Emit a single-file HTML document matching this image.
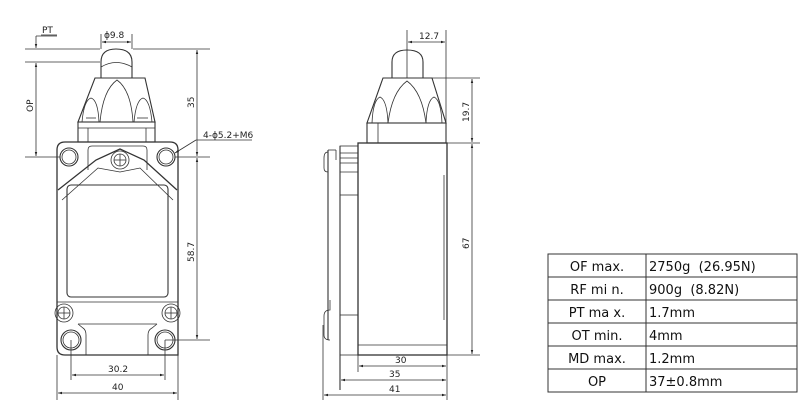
<!DOCTYPE html>
<html><head><meta charset="utf-8"><style>
html,body{margin:0;padding:0;background:#fff;}
svg{display:block}
text{font-family:"DejaVu Sans","Liberation Sans",sans-serif;font-size:9px;fill:#222}
.t{font-family:"DejaVu Sans","Liberation Sans",sans-serif;font-size:13px;fill:#111}
</style></head><body>
<svg width="808" height="412" viewBox="0 0 808 412" xmlns="http://www.w3.org/2000/svg">
<defs>
<marker id="a" viewBox="0 0 10 10" refX="10" refY="5" markerWidth="7" markerHeight="5" orient="auto-start-reverse"><path d="M0,2 L10,5 L0,8 z" fill="#222"/></marker>
</defs>
<g stroke="#333" stroke-width="0.8" fill="none">
<line x1="25" y1="49" x2="100" y2="49"/>
<line x1="133" y1="49" x2="210" y2="49"/>
<line x1="25" y1="62" x2="100" y2="62"/>
<line x1="25" y1="157" x2="60" y2="157"/>
<line x1="175" y1="157" x2="210" y2="157"/>
<line x1="36" y1="36" x2="36" y2="48" marker-end="url(#a)"/>
<line x1="36" y1="36" x2="57" y2="36"/>
<line x1="36" y1="63" x2="36" y2="156" marker-start="url(#a)" marker-end="url(#a)"/>
<line x1="101" y1="34" x2="101" y2="49"/>
<line x1="132" y1="34" x2="132" y2="49"/>
<line x1="102" y1="42" x2="131" y2="42" marker-start="url(#a)" marker-end="url(#a)"/>
<line x1="197" y1="50" x2="197" y2="156" marker-start="url(#a)" marker-end="url(#a)"/>
<line x1="197" y1="158" x2="197" y2="339" marker-start="url(#a)" marker-end="url(#a)"/>
<line x1="165" y1="340" x2="210" y2="340"/>
<line x1="196" y1="140" x2="252" y2="140"/>
<line x1="196" y1="140" x2="175" y2="153" marker-end="url(#a)"/>
<line x1="71" y1="340" x2="71" y2="380"/>
<line x1="165" y1="340" x2="165" y2="380"/>
<line x1="72" y1="375" x2="164" y2="375" marker-start="url(#a)" marker-end="url(#a)"/>
<line x1="57" y1="355" x2="57" y2="400"/>
<line x1="178" y1="355" x2="178" y2="400"/>
<line x1="58" y1="393" x2="177" y2="393" marker-start="url(#a)" marker-end="url(#a)"/>
<path d="M101,78 L101,62 Q101,49 116,49 Q132,49 132,62 L132,78" stroke-width="1.1"/>
<path d="M101,67 Q116,58 132,67"/>
<path d="M95,78 L145,78 L155,122 L78,122 Z" stroke-width="1.1"/>
<path d="M100,122 Q103,90 117,80 Q131,90 133,122"/>
<path d="M82,122 Q84,100 91,98 Q98,100 99,122"/>
<path d="M134,122 Q136,100 143,98 Q150,100 152,122"/>
<line x1="86" y1="118" x2="96" y2="118"/><line x1="137" y1="118" x2="148" y2="118"/>
<rect x="78" y="122" width="77" height="20" stroke-width="1.1"/>
<line x1="88" y1="128" x2="88" y2="142"/><line x1="146" y1="128" x2="146" y2="142"/>
<line x1="78" y1="128" x2="155" y2="128"/>
<path d="M57,150 Q57,142 65,142 L170,142 Q178,142 178,150 L178,355 L65,355 Q57,355 57,347 Z" stroke-width="1.3"/>
<circle cx="69" cy="157" r="9" stroke-width="1.1"/><circle cx="69" cy="157" r="7"/>
<circle cx="166" cy="157" r="9" stroke-width="1.1"/><circle cx="166" cy="157" r="7"/>
<path d="M88,170 L88,150 Q88,146 92,146 L143,146 Q147,146 147,150 L147,170"/>
<path d="M58,190 L96,160 L120,149 L144,160 L177,190" stroke-width="1.3"/>
<path d="M62,200 L98,168 L120,172 L140,168 L173,200"/>
<circle cx="120" cy="160" r="9"/><circle cx="120" cy="160" r="6"/>
<line x1="114" y1="160" x2="126" y2="160"/><line x1="120" y1="154" x2="120" y2="166"/>
<rect x="67" y="185" width="101" height="112" rx="4" stroke-width="1.1"/>
<line x1="57" y1="302" x2="178" y2="302"/>
<circle cx="64" cy="313" r="9"/><circle cx="64" cy="313" r="6"/>
<line x1="58" y1="313" x2="70" y2="313"/><line x1="64" y1="307" x2="64" y2="319"/>
<circle cx="171" cy="313" r="9"/><circle cx="171" cy="313" r="6"/>
<line x1="165" y1="313" x2="177" y2="313"/><line x1="171" y1="307" x2="171" y2="319"/>
<path d="M78,324 L83,328 Q86,330 86,335 L86,355"/>
<path d="M157,324 L152,328 Q148,330 148,335 L148,355"/>
<line x1="78" y1="324" x2="157" y2="324"/>
<circle cx="71" cy="340" r="10" stroke-width="1.1"/><circle cx="71" cy="340" r="8"/>
<circle cx="165" cy="340" r="10" stroke-width="1.1"/><circle cx="165" cy="340" r="8"/>
<line x1="407" y1="30" x2="407" y2="78"/>
<line x1="446" y1="30" x2="446" y2="143"/>
<line x1="408" y1="42" x2="445" y2="42" marker-start="url(#a)" marker-end="url(#a)"/>
<path d="M392,78 L392,62 Q392,50 407,50 Q423,50 423,62 L423,78" stroke-width="1.1"/>
<path d="M383,78 L432,78 L446,123 L367,123 Z" stroke-width="1.1"/>
<path d="M388,123 Q392,92 407,81 Q422,92 426,123"/>
<path d="M372,123 Q373,100 380,97 Q387,100 388,123"/>
<path d="M426,123 Q427,100 434,97 Q441,100 442,123"/>
<rect x="367" y="123" width="79" height="20" stroke-width="1.1"/>
<line x1="378" y1="123" x2="378" y2="143"/>
<line x1="432" y1="78" x2="480" y2="78"/>
<line x1="446" y1="143" x2="480" y2="143"/>
<line x1="472" y1="79" x2="472" y2="142" marker-start="url(#a)" marker-end="url(#a)"/>
<line x1="472" y1="144" x2="472" y2="354" marker-start="url(#a)" marker-end="url(#a)"/>
<line x1="447" y1="355" x2="480" y2="355"/>
<rect x="358" y="143" width="89" height="212" stroke-width="1.3"/>
<line x1="444" y1="175" x2="444" y2="320"/>
<line x1="358" y1="345" x2="447" y2="345"/>
<rect x="340" y="146" width="18" height="49"/>
<line x1="340" y1="153" x2="358" y2="153"/><line x1="340" y1="158" x2="358" y2="158"/>
<line x1="340" y1="163" x2="358" y2="163"/><line x1="340" y1="172" x2="358" y2="172"/>
<rect x="340" y="315" width="18" height="40"/>
<line x1="340" y1="146" x2="340" y2="390" stroke-width="1.1"/>
<line x1="328" y1="150" x2="328" y2="340" stroke-width="1.1"/>
<line x1="328" y1="150" x2="336" y2="150"/><line x1="336" y1="150" x2="336" y2="160"/>
<path d="M328,152 Q324,152 324,158 L324,168 Q324,172 328,172"/>
<path d="M330,300 L330,310 Q324,310 324,316 L324,335 Q324,340 330,340"/>
<line x1="358" y1="355" x2="358" y2="372"/>
<line x1="447" y1="355" x2="447" y2="400"/>
<line x1="323" y1="325" x2="323" y2="400"/>
<line x1="359" y1="366" x2="446" y2="366" marker-start="url(#a)" marker-end="url(#a)"/>
<line x1="341" y1="380" x2="446" y2="380" marker-start="url(#a)" marker-end="url(#a)"/>
<line x1="324" y1="395" x2="446" y2="395" marker-start="url(#a)" marker-end="url(#a)"/>
</g>
<text x="42" y="33">PT</text>
<line x1="41" y1="35" x2="57" y2="35" stroke="#333" stroke-width="0.8"/>
<text x="104" y="38">ϕ9.8</text>
<text transform="translate(33,112) rotate(-90)">OP</text>
<text transform="translate(194,108) rotate(-90)">35</text>
<text transform="translate(194,262) rotate(-90)">58.7</text>
<text x="203" y="138">4-ϕ5.2+M6</text>
<text x="108" y="372">30.2</text>
<text x="112" y="390">40</text>
<text x="419" y="39">12.7</text>
<text transform="translate(469,122) rotate(-90)">19.7</text>
<text transform="translate(469,249) rotate(-90)">67</text>
<text x="395" y="363">30</text>
<text x="389" y="377">35</text>
<text x="389" y="392">41</text>
<g stroke="#333" stroke-width="1">
<rect x="548" y="254" width="249" height="138" fill="none"/>
<line x1="646" y1="254" x2="646" y2="392"/>
<line x1="548" y1="277" x2="797" y2="277"/>
<line x1="548" y1="300" x2="797" y2="300"/>
<line x1="548" y1="323" x2="797" y2="323"/>
<line x1="548" y1="346" x2="797" y2="346"/>
<line x1="548" y1="369" x2="797" y2="369"/>
</g>
<text class="t" x="597" y="271" text-anchor="middle">OF max.</text>
<text class="t" x="597" y="294" text-anchor="middle">RF mi n.</text>
<text class="t" x="597" y="317" text-anchor="middle">PT ma x.</text>
<text class="t" x="597" y="340" text-anchor="middle">OT min.</text>
<text class="t" x="597" y="363" text-anchor="middle">MD max.</text>
<text class="t" x="597" y="386" text-anchor="middle">OP</text>
<text class="t" x="649" y="271">2750g&#160; (26.95N)</text>
<text class="t" x="649" y="294">900g&#160; (8.82N)</text>
<text class="t" x="649" y="317">1.7mm</text>
<text class="t" x="649" y="340">4mm</text>
<text class="t" x="649" y="363">1.2mm</text>
<text class="t" x="649" y="386">37±0.8mm</text>
</svg>
</body></html>
